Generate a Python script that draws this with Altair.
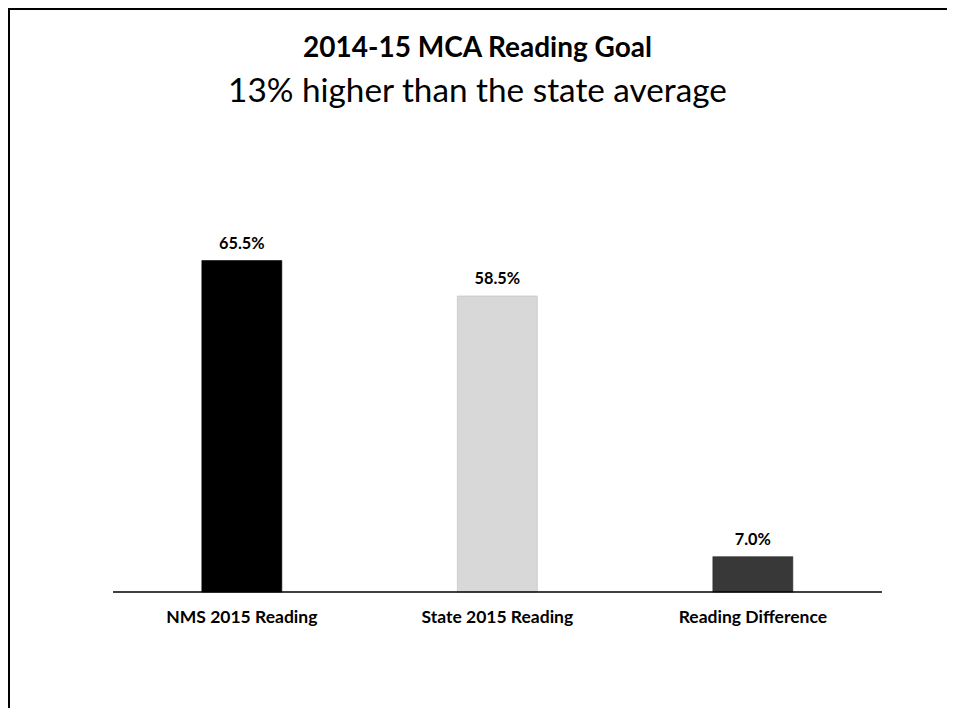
import altair as alt
import pandas as pd

categories = ["NMS 2015 Reading", "State 2015 Reading", "Reading Difference"]
values = [65.5, 58.5, 7.0]
labels = ["65.5%", "58.5%", "7.0%"]
bar_colors = ["#000000", "#d8d8d8", "#383838"]
title_text = "2014-15 MCA Reading Goal"
subtitle_text = "13% higher than the state average"

W, H = 939, 700
df = pd.DataFrame({"cat": categories, "val": values, "lab": labels})

xscale = alt.Scale(domain=categories, paddingInner=0.687, paddingOuter=0.681, align=0.557)
yscale = alt.Scale(domain=[-22.9, 115.4], nice=False, zero=False)

base = alt.Chart(df)

bars = base.mark_bar(strokeWidth=0.6).encode(
    x=alt.X("cat:N", scale=xscale, sort=categories,
            axis=alt.Axis(title=None, domain=False, ticks=False, tickSize=0,
                          labelAngle=0, labelFont="Lato", labelFontSize=17.5,
                          labelFontWeight="bold", labelColor="black",
                          labelPadding=16, offset=-116)),
    y=alt.Y("val:Q", scale=yscale, axis=None),
    color=alt.Color("cat:N", scale=alt.Scale(domain=categories, range=bar_colors), legend=None),
    stroke=alt.Color("cat:N", scale=alt.Scale(domain=categories, range=["#000000", "#bdbdbd", "#2a2a2a"]), legend=None),
)

text = base.mark_text(font="Lato", fontSize=16.3, fontWeight="bold", color="black",
                      baseline="alphabetic", dy=-12).encode(
    x=alt.X("cat:N", scale=xscale, sort=categories),
    y=alt.Y("val:Q", scale=yscale),
    text="lab:N",
)

one = alt.Chart(pd.DataFrame({"z": [0]}))
baseline = one.mark_rule(color="black", strokeWidth=1.5).encode(
    y=alt.Y("z:Q", scale=yscale),
    x=alt.value(105), x2=alt.value(874),
)
frame_left = one.mark_rule(color="black", strokeWidth=2).encode(
    x=alt.value(1), y=alt.value(0), y2=alt.value(H)
)
frame_top = one.mark_rule(color="black", strokeWidth=2).encode(
    y=alt.value(1), x=alt.value(0), x2=alt.value(W)
)

chart = alt.layer(frame_left, frame_top, bars, baseline, text).properties(
    width=W, height=H,
    padding=0,
    autosize=alt.AutoSizeParams(type="none"),
    title=alt.Title(text=title_text, subtitle=subtitle_text, font="Lato", fontSize=28,
                    fontWeight="bold", color="black", subtitleFont="Lato",
                    subtitleFontSize=33.3, subtitleColor="black", subtitlePadding=13,
                    anchor="middle", frame="group", offset=-101),
).configure_view(strokeWidth=0, strokeOpacity=0).configure(background="white")

chart.save("out.html", embed_options={"renderer": "svg", "actions": False})
